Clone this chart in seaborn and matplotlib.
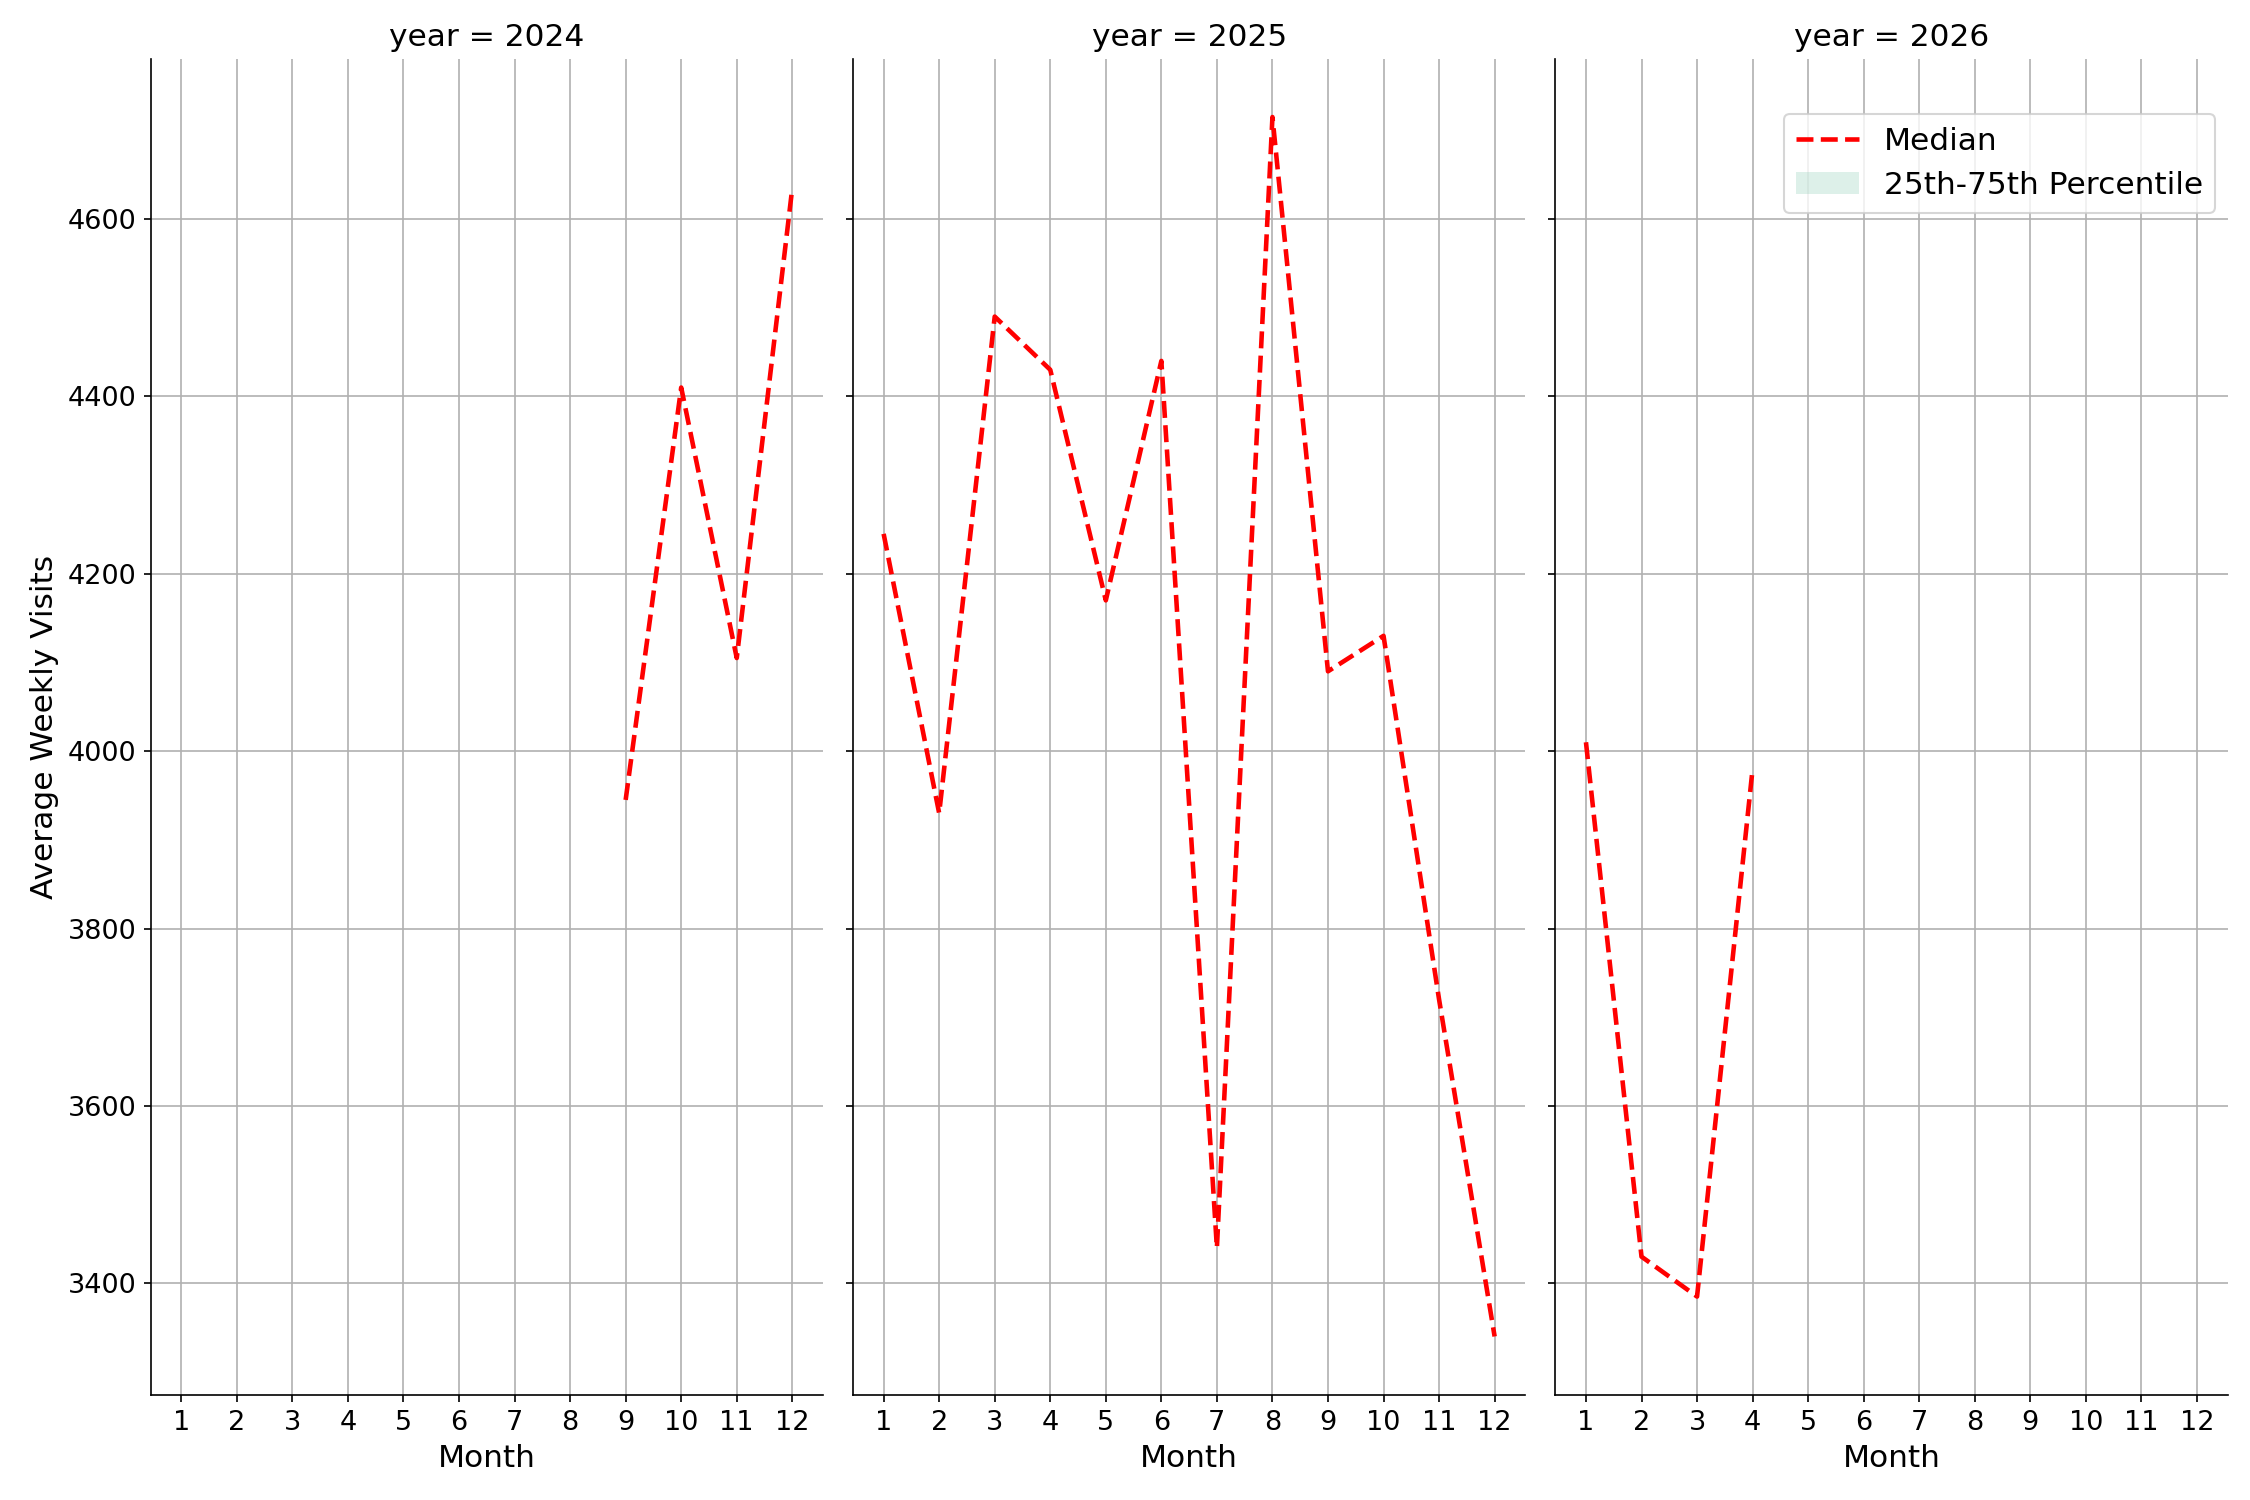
import numpy as np
import pandas as pd
import seaborn as sns
import matplotlib
matplotlib.use("Agg")
import matplotlib.pyplot as plt

# median of average weekly visits per month
months_2024 = [9, 10, 11, 12]
median_2024 = [3945, 4410, 4105, 4635]
months_2025 = [1, 2, 3, 4, 5, 6, 7, 8, 9, 10, 11, 12]
median_2025 = [4245, 3930, 4490, 4430, 4170, 4440, 3440, 4715, 4090, 4130, 3720, 3340]
months_2026 = [1, 2, 3, 4]
median_2026 = [4010, 3430, 3385, 3980]

df = pd.concat([
    pd.DataFrame({"year": 2024, "Month": months_2024, "median": median_2024}),
    pd.DataFrame({"year": 2025, "Month": months_2025, "median": median_2025}),
    pd.DataFrame({"year": 2026, "Month": months_2026, "median": median_2026}),
])
# percentile band collapses onto the median (no visible spread in the chart)
df["q25"] = df["median"]
df["q75"] = df["median"]

plt.rcParams["font.family"] = ["DejaVu Sans"]


def draw(data, **kws):
    ax = plt.gca()
    ax.fill_between(data["Month"], data["q25"], data["q75"], color="#8fcfb8",
                    alpha=0.3, label="25th-75th Percentile", linewidth=0)
    sns.lineplot(data=data, x="Month", y="median", color="red", linestyle="--",
                 linewidth=2.2, label="Median", ax=ax)


g = sns.FacetGrid(df, col="year", height=10, aspect=0.5, sharey=True, sharex=True)
g.map_dataframe(draw)
g.figure.set_size_inches(15, 10)
g.set_titles("year = {col_name}", size=15)
g.set_axis_labels("Month", "Average Weekly Visits", fontsize=15)
for ax in g.axes.flat:
    ax.set_xticks(range(1, 13))
    ax.set_xlim(0.45, 12.55)
    ax.set_ylim(3274, 4781)
    ax.grid(True, color="#b0b0b0", linewidth=0.8)
    ax.tick_params(labelsize=13)
    if ax.get_legend():
        ax.get_legend().remove()

ax3 = g.axes.flat[2]
handles, labels = ax3.get_legend_handles_labels()
order = [labels.index("Median"), labels.index("25th-75th Percentile")]
ax3.legend([handles[i] for i in order], [labels[i] for i in order],
           loc="upper right", bbox_to_anchor=(1.005, 0.97), fontsize=15)

g.figure.subplots_adjust(left=0.067, right=0.99, bottom=0.07, top=0.961, wspace=0.045)
g.figure.savefig("out.png", dpi=150)
